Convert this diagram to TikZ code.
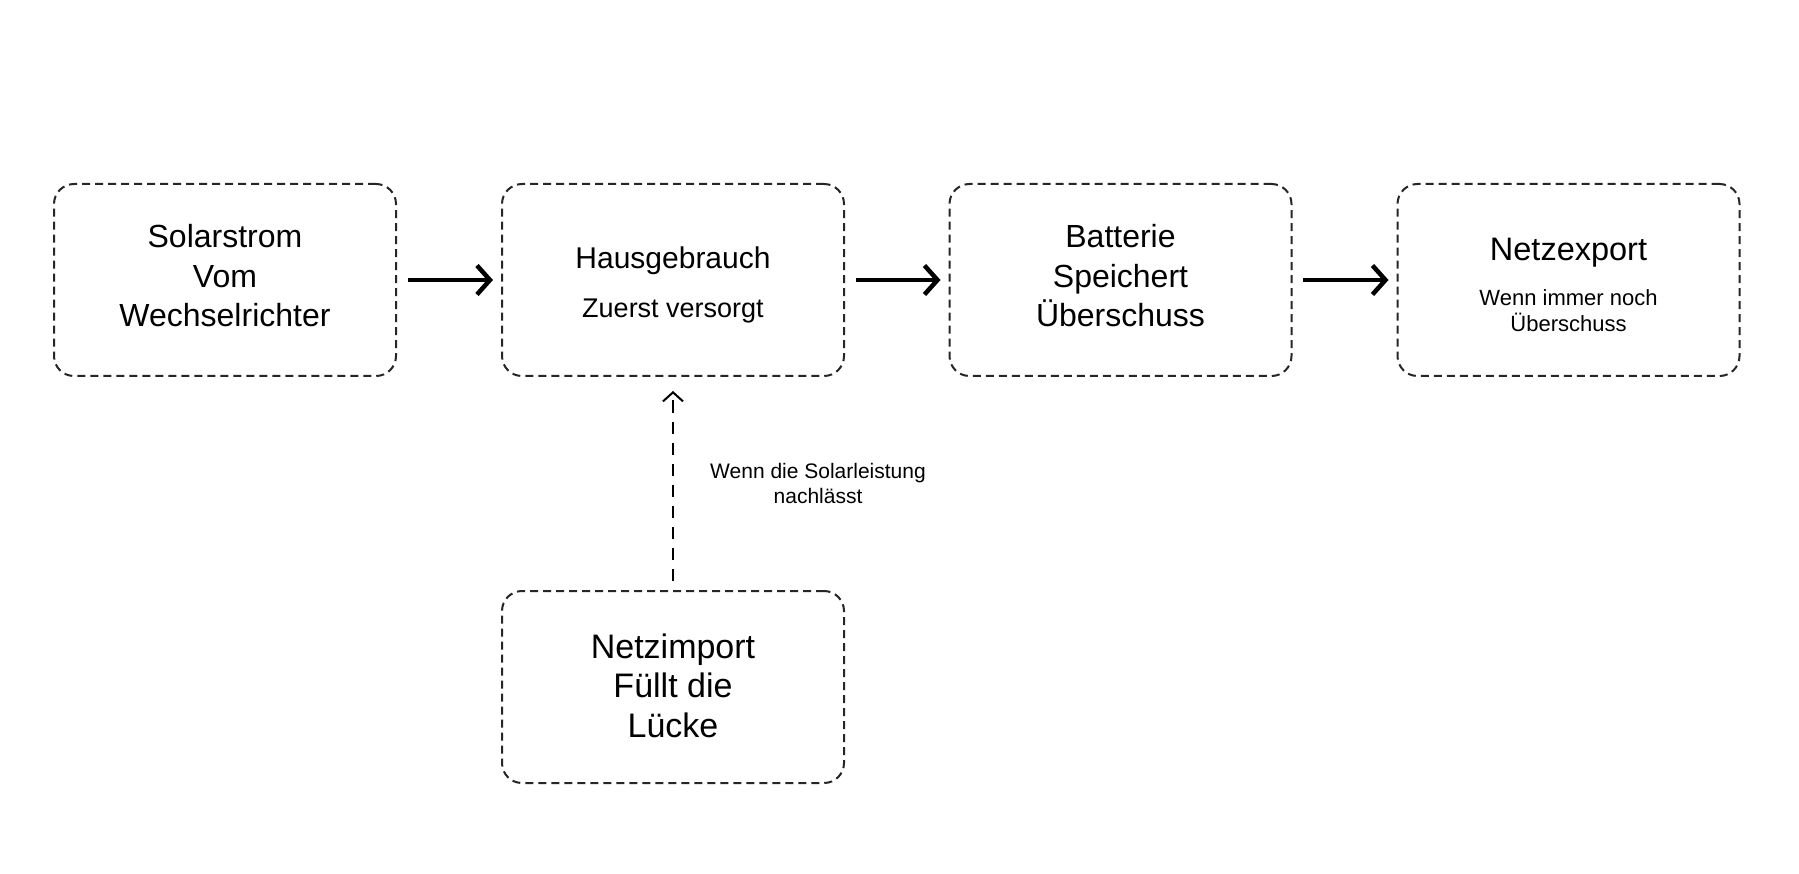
\documentclass[tikz,border=0pt]{standalone}
\usepackage{fontspec}
\setmainfont{Liberation Sans}
\usetikzlibrary{arrows.meta}
\begin{document}
\begin{tikzpicture}[x=1pt,y=1pt,
  box/.style={draw=black!85, line width=2pt, dash pattern=on 8pt off 5pt,
    rounded corners=20pt, minimum width=342pt, minimum height=192pt, inner sep=0pt},
  bigtxt/.style={align=center, inner sep=0pt, font=\fontsize{32}{39.5}\selectfont},
  imptxt/.style={align=center, inner sep=0pt, font=\fontsize{34}{39.5}\selectfont},
  flow/.style={line width=4.5pt, -{Straight Barb[length=13pt,width=29pt]}},
  back/.style={line width=2pt, dash pattern=on 12pt off 9pt,
    -{Straight Barb[length=9pt,width=20pt]}},
  note/.style={align=center, inner sep=0pt, font=\fontsize{21}{24.5}\selectfont}]
\useasboundingbox[fill=white] (0,0) rectangle (1799,-874);

\node[box] (solar) at (225,-280) {};
\node[box] (haus) at (673,-280) {};
\node[box] (batt) at (1120.5,-280) {};
\node[box] (netz) at (1568.5,-280) {};
\node[box] (imp) at (673,-687) {};

\node[bigtxt] (solart) at ([yshift=4pt]solar.center) {Solarstrom\\Vom\\Wechselrichter};
\node[anchor=base, inner sep=0pt, font=\fontsize{30}{36}\selectfont] (haust) at ([yshift=11.7pt]haus.center) {Hausgebrauch};
\node[anchor=base, inner sep=0pt, font=\fontsize{27}{32}\selectfont] (hauss) at ([yshift=-37.7pt]haus.center) {Zuerst versorgt};
\node[bigtxt] (battt) at ([yshift=4pt]batt.center) {Batterie\\Speichert\\Überschuss};
\node[anchor=base, inner sep=0pt, font=\fontsize{32.5}{39}\selectfont] (netzt) at ([yshift=19.3pt]netz.center) {Netzexport};
\node[align=center, inner sep=0pt, font=\fontsize{22}{26.7}\selectfont] (netzs) at ([yshift=-30.6pt]netz.center) {Wenn immer noch\\Überschuss};
\node[imptxt] (impt) at ([yshift=1.6pt]imp.center) {Netzimport\\Füllt die\\Lücke};

\draw[flow, shorten <=10.5pt, shorten >=8pt] (solar.east) -- (haus.west);
\draw[flow, shorten <=10.5pt, shorten >=8pt] (haus.east) -- (batt.west);
\draw[flow, shorten <=10.5pt, shorten >=8pt] (batt.east) -- (netz.west);
\draw[back, shorten <=9.5pt, shorten >=14pt] (imp.north) -- (haus.south);
\node[note] (lbl) at (818,-483.4) {Wenn die Solarleistung\\nachlässt};
\end{tikzpicture}
\end{document}
